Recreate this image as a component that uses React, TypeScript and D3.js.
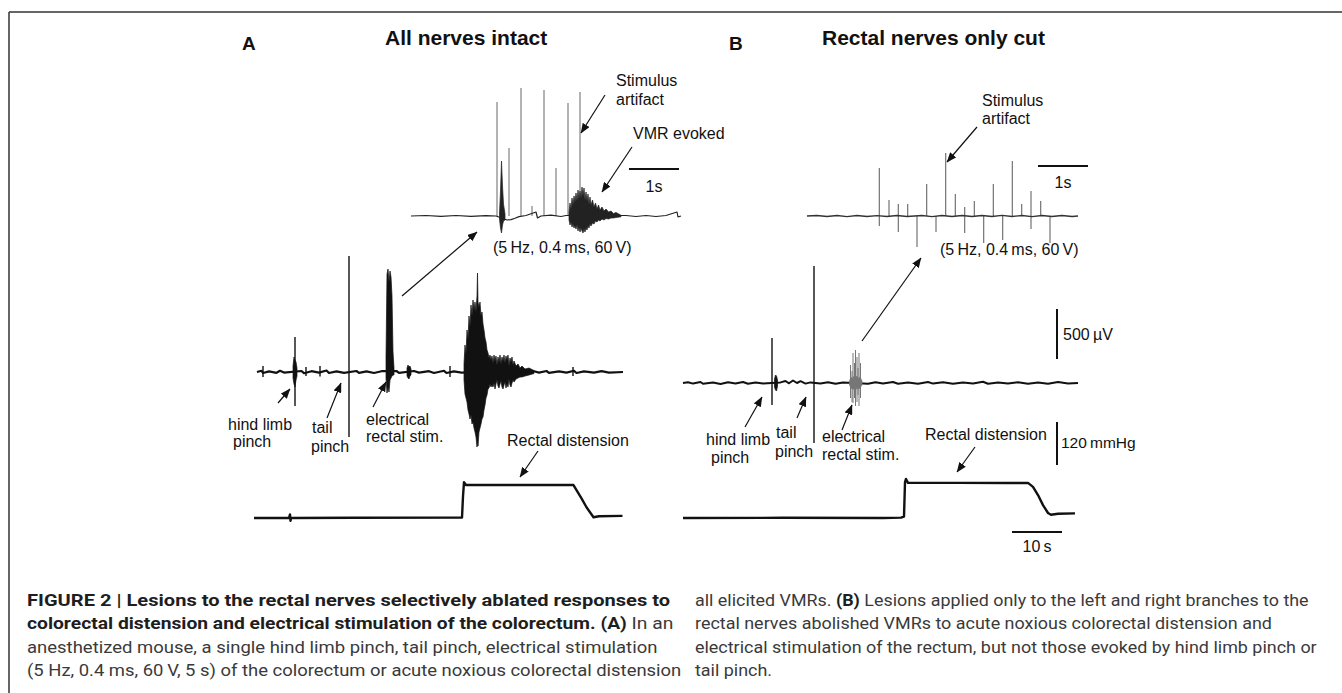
import React, { useLayoutEffect, useRef } from "react";
import * as d3 from "d3";

type P2 = [number, number];
type P3 = [number, number, number];

// ---------------- Panel A : inset (stimulus train; t in s, amplitude in µV) ----------------
const insetATimes = [1.72, 1.96, 2.2, 2.42, 2.66, 2.9, 3.14, 3.38];
const insetAArtifact = [1140, 680, 1280, 100, 1260, 480, 1130, 1240];
const insetABaseline: P2[] = [
  [0, 0], [0.3, 5], [0.6, -4], [0.9, 5], [1.2, -4], [1.5, 4], [1.7, 0],
  [1.92, -40], [2.0, -36], [2.08, -22], [2.16, -6], [2.3, 5], [2.5, 40], [2.53, -20], [2.6, 0], [2.8, 8],
  [3.0, -5], [3.1, 5], [4.3, 5], [4.5, -5], [4.7, 5], [4.9, -5], [5.1, 5], [5.32, 40], [5.34, -10], [5.4, 0],
];
const insetAOnset: P3[] = [
  [1.77, 30, -30], [1.79, 250, -120], [1.81, 550, -170], [1.83, 300, -90], [1.85, 120, -50], [1.88, 20, -40],
];
const insetAVmr: P3[] = [
  [3.16, 40, -40], [3.18, 130, -90], [3.2, 70, -60], [3.22, 180, -110], [3.24, 110, -80], [3.26, 200, -120],
  [3.28, 140, -100], [3.3, 230, -130], [3.32, 150, -90], [3.34, 260, -150], [3.36, 170, -110], [3.38, 250, -160],
  [3.4, 180, -120], [3.42, 290, -150], [3.44, 200, -170], [3.46, 280, -130], [3.48, 160, -160], [3.5, 240, -120],
  [3.52, 150, -140], [3.54, 220, -100], [3.56, 120, -120], [3.58, 190, -80], [3.6, 110, -100], [3.63, 160, -70],
  [3.66, 90, -80], [3.69, 130, -50], [3.72, 70, -60], [3.75, 110, -40], [3.78, 60, -50], [3.82, 90, -30],
  [3.86, 50, -40], [3.9, 70, -25], [3.95, 40, -30], [4.0, 50, -20], [4.05, 25, -20], [4.1, 35, -15], [4.2, 8, -8],
];

// ---------------- Panel A : EMG overview (t in s, µV) ----------------
const emgABaseline: P2[] = [
  [0.6, 0], [1.5, 12], [1.8, -10], [3, 6], [4.5, -8], [5.2, 12], [6, -6], [9.5, 10], [10, -12], [11.5, 8],
  [13, -6], [14.5, 15], [15, -10], [16.5, 6], [18, -8], [20.5, 10], [21, -8], [22.5, 6], [24, -10], [25.5, 8],
  [28.5, 10], [29, -8], [32, 10], [33, -6], [35, 8], [36, -10], [38, 12], [38.5, -10], [40, 6], [41.5, -6],
  [56, 8], [57, -6], [58.5, 10], [59, -8], [61, 6], [62.5, -6], [64, 12], [64.5, -10], [66, 6], [68, -6],
  [69.5, 8], [71, -6], [73.8, 0],
];
const emgASpikes: P3[] = [
  [8.2, 350, -340], [19.0, 1160, -650], [1.8, 60, -50], [10.4, 50, -40], [13.2, 60, -45], [39.2, 60, -50], [63.8, 50, -40],
];
const emgAHindLimb: P3[] = [[7.8, 60, -60], [8.0, 150, -120], [8.2, 120, -150], [8.4, 100, -80], [8.6, 40, -40]];
const emgAElectrical: P3[] = [
  [26.4, 150, -60], [26.6, 980, -210], [26.8, 1030, -150], [27.0, 900, -200], [27.2, 1010, -80],
  [27.4, 950, -60], [27.6, 760, -40], [27.8, 200, -30], [28.0, 40, -30],
];
const emgAAfterStim: P3[] = [[30.6, 40, -40], [30.8, 70, -60], [31.0, 50, -70], [31.2, 60, -40], [31.4, 30, -30]];
const emgADistension: P3[] = [
  [42.0, 80, -80], [42.2, 270, -220], [42.4, 180, -260], [42.6, 420, -300], [42.8, 330, -380], [43.0, 560, -420],
  [43.2, 450, -470], [43.4, 670, -430], [43.6, 560, -520], [43.8, 720, -500], [44.0, 620, -560], [44.2, 700, -600],
  [44.4, 600, -650], [44.6, 760, -750], [44.7, 990, -700], [44.8, 700, -740], [45.0, 650, -600], [45.2, 700, -560],
  [45.4, 560, -520], [45.6, 600, -470], [45.8, 480, -450], [46.0, 420, -380], [46.2, 340, -330], [46.4, 300, -260],
  [46.6, 220, -230], [46.8, 190, -170], [47.0, 140, -160], [47.2, 170, -120], [47.4, 120, -150], [47.6, 160, -130],
  [47.8, 90, -150], [48.0, 170, -110], [48.2, 110, -170], [48.4, 160, -120], [48.6, 70, -80], [48.8, 150, -140],
  [49.0, 100, -160], [49.2, 170, -120], [49.4, 80, -90], [49.6, 150, -150], [49.8, 110, -170], [50.0, 170, -130],
  [50.2, 90, -100], [50.4, 160, -160], [50.6, 120, -120], [50.8, 170, -150], [51.0, 60, -70], [51.2, 140, -130],
  [51.4, 100, -150], [51.6, 150, -110], [51.8, 70, -80], [52.0, 110, -100], [52.4, 60, -70], [52.8, 80, -60],
  [53.2, 40, -50], [53.6, 60, -50], [54.2, 30, -40], [55, 40, -30], [56, 15, -15],
];

// ---------------- Panel A : rectal pressure (mmHg) ----------------
const pressureA: P2[] = [
  [0, 0], [7.0, 0], [7.2, 10], [7.3, -8], [7.4, 0], [20, 0.5], [41.6, 1], [41.8, 60], [42, 100], [42.4, 92],
  [52, 92], [63.9, 92], [64.5, 78], [65.5, 55], [66.5, 30], [67.9, 2], [69, 5], [73.7, 6],
];

// ---------------- Panel B : inset ----------------
const insetBTimes = [1.446, 1.64, 1.826, 2.014, 2.2, 2.394, 2.58, 2.774, 2.966, 3.154, 3.346, 3.534, 3.726, 3.914, 4.106, 4.294, 4.48, 4.674, 4.86];
const insetBUp = [480, 160, 120, 120, 0, 320, 0, 630, 220, 90, 150, 0, 320, 0, 550, 120, 250, 150, 0];
const insetBDown = [-100, 0, -160, 0, -310, 0, -160, 0, 0, -170, 0, -270, 0, -240, 0, 0, -130, 0, -270];
const insetBBaseline: P2[] = [
  [0, 0], [0.2, 5], [0.4, -5], [0.6, 5], [0.8, -6], [1.0, 5], [1.2, -5], [1.4, 3], [1.6, -5], [1.8, 5],
  [2.0, -5], [2.3, 5], [2.5, -6], [2.7, 5], [2.9, -5], [3.1, 5], [3.3, -5], [3.5, 5], [3.7, -5], [3.9, 6],
  [4.1, -5], [4.3, 5], [4.5, -6], [4.7, 5], [4.9, -5], [5.1, 5], [5.3, -5], [5.42, 0],
];

// ---------------- Panel B : EMG overview ----------------
const emgBBaseline: P2[] = [
  [0, 0], [1, 8], [2, -6], [3.5, 10], [4, -8], [6, 6], [7.5, -10], [9, 8], [10.5, -6], [12, 10], [13, -8],
  [14.5, 6], [16, -6], [19.5, 6], [20.5, 20], [21.2, -3], [22, 25], [22.8, 0], [23.5, 18], [24.5, -6], [25.5, 6],
  [27.5, -6], [29, 8], [30.5, -8], [32, 6], [37, -8], [38.5, 8], [40, -6], [42, 10], [43, -8], [45, 6],
  [47, -8], [49, 10], [50, -6], [52, 8], [54, -8], [56, 6], [58, -6], [60, 12], [61, -8], [63, 6], [65, -6],
  [67, 8], [69, -8], [71, 6], [73, -8], [75, 10], [77, -6], [79, 0],
];
const emgBHindLimb: P3[] = [[18.3, 40, -40], [18.5, 80, -70], [18.7, 70, -80], [18.9, 30, -30]];
const emgBSpikes: P3[] = [[17.8, 450, -220], [26.2, 1170, -600]];
const emgBElectricalCore: P3[] = [
  [33.3, 20, -20], [33.6, 60, -50], [33.9, 40, -60], [34.2, 70, -60], [34.5, 50, -70], [34.8, 70, -50],
  [35.1, 40, -60], [35.4, 60, -50], [35.8, 20, -20],
];
const emgBElectricalSpikes: P3[] = [
  [33.5, 180, -150], [33.8, 120, -190], [34.0, 300, -200], [34.3, 200, -150], [34.5, 330, -230], [34.8, 260, -190],
  [35.0, 150, -120], [35.2, 300, -230], [35.5, 200, -150],
];

// ---------------- Panel B : rectal pressure ----------------
const pressureB: P2[] = [
  [0, 0], [20, 0.5], [40, 0], [43.6, 1], [44.2, 4], [44.4, 100], [44.6, 109], [45, 98], [55, 98], [65, 97.5],
  [69, 98], [70, 87], [71, 64], [72, 36], [73, 14], [73.6, 9], [75, 12], [78.4, 13],
];

// ---------------- Caption ----------------
type Run = { s: string; b?: boolean };
const captionLeft: Run[][] = [
  [{ s: "FIGURE 2 | Lesions to the rectal nerves selectively ablated responses to", b: true }],
  [{ s: "colorectal distension and electrical stimulation of the colorectum. (A)", b: true }, { s: " In an" }],
  [{ s: "anesthetized mouse, a single hind limb pinch, tail pinch, electrical stimulation" }],
  [{ s: "(5 Hz, 0.4 ms, 60\u2009V, 5 s) of the colorectum or acute noxious colorectal distension" }],
];
const captionRight: Run[][] = [
  [{ s: "all elicited VMRs. " }, { s: "(B)", b: true }, { s: " Lesions applied only to the left and right branches to the" }],
  [{ s: "rectal nerves abolished VMRs to acute noxious colorectal distension and" }],
  [{ s: "electrical stimulation of the rectum, but not those evoked by hind limb pinch or" }],
  [{ s: "tail pinch." }],
];
// measured line widths (px) in the reference; 0 = use the common compression
const captionLeftWidths = [644, 647, 631, 655];
const captionRightWidths = [614, 577, 622, 0];

// ---------------- scales ----------------
const xA = d3.scaleLinear().domain([0, 74]).range([254, 624]);
const yA = d3.scaleLinear().domain([-1000, 1000]).range([472, 272]);
const pA = d3.scaleLinear().domain([0, 120]).range([518, 475]);
const xAi = d3.scaleLinear().domain([0, 5.4]).range([411, 681]);
const yAi = d3.scaleLinear().domain([-1000, 1000]).range([316, 116]);
const xB = d3.scaleLinear().domain([0, 79]).range([683, 1078]);
const yB = d3.scaleLinear().domain([-1000, 1000]).range([483, 283]);
const pB = d3.scaleLinear().domain([0, 120]).range([518, 475]);
const xBi = d3.scaleLinear().domain([0, 5.4]).range([807, 1077]);
const yBi = d3.scaleLinear().domain([-1000, 1000]).range([316, 116]);

type Sc = d3.ScaleLinear<number, number>;
const linePath = (x: Sc, y: Sc, d: P2[]) => d3.line<P2>().x((p) => x(p[0])).y((p) => y(p[1]))(d) || "";
const areaPath = (x: Sc, y: Sc, d: P3[]) =>
  d3.area<P3>().x((p) => x(p[0])).y0((p) => y(p[2])).y1((p) => y(p[1]))(d) || "";

const LF = "'Liberation Sans', Arial, Helvetica, sans-serif";
const CF = "Roboto, 'Liberation Sans', Arial, sans-serif";

const arrows: [number, number, number, number][] = [
  [605, 95, 581, 133], [632, 147, 602, 192], [402, 296, 477, 232], [278, 403, 290, 389],
  [327, 418, 341, 383], [373, 407, 386, 382], [538, 451, 520, 477],
  [977, 127, 947, 162], [862, 341, 921, 258], [745, 427, 762, 397], [797, 418, 806, 397],
  [842, 430, 852, 405], [975, 447, 957, 472],
];

type Lbl = [string, number, number];
const labels: Lbl[] = [
  ["Stimulus", 616, 86], ["artifact", 616, 105], ["VMR evoked", 633, 139],
  ["(5\u2009Hz, 0.4\u2009ms, 60\u2009V)", 493, 253],
  ["hind limb", 228, 430], ["pinch", 233, 447], ["tail", 312, 433], ["pinch", 311, 452],
  ["electrical", 366, 425], ["rectal stim.", 366, 442], ["Rectal distension", 507, 446],
  ["Stimulus", 982, 106], ["artifact", 982, 124],
  ["(5\u2009Hz, 0.4\u2009ms, 60\u2009V)", 940, 255],
  ["hind limb", 706, 445], ["pinch", 711, 463], ["tail", 776, 438], ["pinch", 775, 457],
  ["electrical", 822, 442], ["rectal stim.", 822, 460], ["Rectal distension", 925, 440],
];

function Emg({ x, y, base, bursts, spikes, color = "#111", bw = 1.5, sw = 1.4 }: {
  x: Sc; y: Sc; base: P2[]; bursts: P3[][]; spikes?: P3[]; color?: string; bw?: number; sw?: number;
}) {
  return (
    <g>
      {base.length > 0 && (
        <path d={linePath(x, y, base)} fill="none" stroke={color} strokeWidth={bw} strokeLinejoin="round" />
      )}
      {bursts.map((b, i) => (
        <path key={i} d={areaPath(x, y, b)} fill={color} stroke={color} strokeWidth={0.7} strokeLinejoin="miter" />
      ))}
      {(spikes || []).map((s, i) => (
        <line key={"s" + i} x1={x(s[0])} x2={x(s[0])} y1={y(s[1])} y2={y(s[2])} stroke={color} strokeWidth={sw} />
      ))}
    </g>
  );
}

export default function App() {
  const capRefs = useRef<(SVGTextElement | null)[]>([]);
  const capLines = [
    ...captionLeft.map((runs, i) => ({ runs, x: 27, y: 606 + i * 23.3, w: captionLeftWidths[i] })),
    ...captionRight.map((runs, i) => ({ runs, x: 695, y: 606 + i * 23.3, w: captionRightWidths[i] })),
  ];

  useLayoutEffect(() => {
    const refEl = capRefs.current[6];
    if (!refEl) return;
    const w6 = refEl.getBBox().width;
    const k = w6 > 0 ? captionRightWidths[2] / w6 : 1;
    capRefs.current.forEach((el, i) => {
      if (!el) return;
      const c = capLines[i];
      let kk = k;
      if (c.w > 0) {
        const wi = el.getBBox().width;
        if (wi > 0) kk = c.w / wi;
      }
      el.setAttribute("transform", `translate(${c.x},${c.y}) scale(${kk},1)`);
    });
  }, []);

  return (
    <svg width={1342} height={693} style={{ position: "absolute", left: 0, top: 0, background: "#fff" }}>
      <defs>
        <marker id="ah" viewBox="0 0 10 8" refX="9.5" refY="4" markerWidth="10" markerHeight="8"
          markerUnits="userSpaceOnUse" orient="auto">
          <path d="M0,0 L10,4 L0,8 Z" fill="#111" />
        </marker>
      </defs>
      <rect x={0} y={0} width={1342} height={693} fill="#fff" />
      {/* frame */}
      <line x1={9} x2={1342} y1={12} y2={12} stroke="#333" strokeWidth={1.5} />
      <line x1={9} x2={9} y1={12} y2={693} stroke="#333" strokeWidth={1.5} />

      {/* titles */}
      <text x={242} y={50} fontFamily={LF} fontWeight="bold" fontSize={19} fill="#111">A</text>
      <text x={385} y={45} fontFamily={LF} fontWeight="bold" fontSize={21} fill="#111">All nerves intact</text>
      <text x={729} y={50} fontFamily={LF} fontWeight="bold" fontSize={19} fill="#111">B</text>
      <text x={822} y={45} fontFamily={LF} fontWeight="bold" fontSize={21} fill="#111">Rectal nerves only cut</text>

      {/* Panel A inset */}
      <g>
        {insetATimes.map((t, i) => (
          <line key={i} x1={xAi(t)} x2={xAi(t)} y1={yAi(0)} y2={yAi(insetAArtifact[i])} stroke="#8a8a8a" strokeWidth={1.3} />
        ))}
        <Emg x={xAi} y={yAi} base={insetABaseline} bursts={[insetAOnset, insetAVmr]} color="#222" bw={1.2} />
        <line x1={xAi(4.36)} x2={xAi(5.36)} y1={169} y2={169} stroke="#111" strokeWidth={2} />
        <text x={(xAi(4.36) + xAi(5.36)) / 2} y={192} textAnchor="middle" fontFamily={LF} fontSize={16} fill="#111">1s</text>
      </g>

      {/* Panel A EMG */}
      <Emg x={xA} y={yA} base={emgABaseline} bursts={[emgAHindLimb, emgAElectrical, emgAAfterStim, emgADistension]}
        spikes={emgASpikes} bw={2.2} />
      {/* Panel A pressure */}
      <path d={linePath(xA, pA, pressureA)} fill="none" stroke="#111" strokeWidth={2.4} strokeLinejoin="round" />

      {/* Panel B inset */}
      <g>
        {insetBTimes.map((t, i) => (
          <line key={i} x1={xBi(t)} x2={xBi(t)} y1={yBi(insetBDown[i])} y2={yBi(insetBUp[i])} stroke="#666" strokeWidth={1.1} />
        ))}
        <path d={linePath(xBi, yBi, insetBBaseline)} fill="none" stroke="#333" strokeWidth={1.3} />
        <line x1={xBi(4.62)} x2={xBi(5.62)} y1={166} y2={166} stroke="#111" strokeWidth={2} />
        <text x={(xBi(4.62) + xBi(5.62)) / 2} y={188} textAnchor="middle" fontFamily={LF} fontSize={16} fill="#111">1s</text>
      </g>

      {/* Panel B EMG */}
      <Emg x={xB} y={yB} base={emgBBaseline} bursts={[emgBHindLimb]} spikes={emgBSpikes} bw={2} />
      <Emg x={xB} y={yB} base={[]} bursts={[emgBElectricalCore]} spikes={emgBElectricalSpikes} color="#777" sw={1} />
      {/* Panel B pressure */}
      <path d={linePath(xB, pB, pressureB)} fill="none" stroke="#111" strokeWidth={2.4} strokeLinejoin="round" />

      {/* Panel B scale bars */}
      <line x1={1057} x2={1057} y1={309} y2={309 + (yB(0) - yB(500))} stroke="#111" strokeWidth={2} />
      <text x={1063} y={340} fontFamily={LF} fontSize={16} fill="#111">500{"\u2009"}µV</text>
      <line x1={1057} x2={1057} y1={422} y2={422 + (pB(0) - pB(120))} stroke="#111" strokeWidth={2} />
      <text x={1061} y={448} fontFamily={LF} fontSize={15.5} fill="#111">120{"\u2009"}mmHg</text>
      <line x1={xB(65.8)} x2={xB(75.8)} y1={532} y2={532} stroke="#111" strokeWidth={2} />
      <text x={(xB(65.8) + xB(75.8)) / 2} y={552} textAnchor="middle" fontFamily={LF} fontSize={16} fill="#111">10{"\u2009"}s</text>

      {/* arrows */}
      {arrows.map((a, i) => (
        <line key={i} x1={a[0]} y1={a[1]} x2={a[2]} y2={a[3]} stroke="#111" strokeWidth={1.2} markerEnd="url(#ah)" />
      ))}

      {/* labels */}
      {labels.map((l, i) => (
        <text key={i} x={l[1]} y={l[2]} fontFamily={LF} fontSize={16} fill="#111">{l[0]}</text>
      ))}

      {/* caption */}
      {capLines.map((c, i) => (
        <text key={i} ref={(el) => { capRefs.current[i] = el; }} transform={`translate(${c.x},${c.y})`}
          fontFamily={CF} fontSize={17} fill="#3a3a3a" style={{ whiteSpace: "pre" }}>
          {c.runs.map((r, j) => (
            <tspan key={j} fontWeight={r.b ? 700 : 400} fill={r.b ? "#1e1e1e" : "#3a3a3a"}>{r.s}</tspan>
          ))}
        </text>
      ))}
    </svg>
  );
}
